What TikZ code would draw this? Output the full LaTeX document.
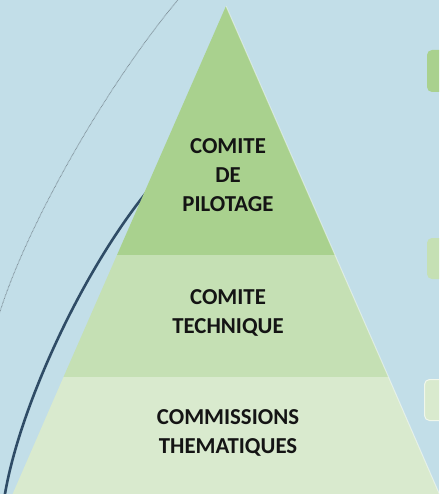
\documentclass[tikz,border=0pt]{standalone}
\usepackage{fontspec}
\setmainfont{Carlito}
\definecolor{bg}{HTML}{C2DEE8}
\definecolor{tierA}{HTML}{A9D18E}
\definecolor{tierB}{HTML}{C5E0B4}
\definecolor{tierC}{HTML}{D9EACE}
\definecolor{curvec}{HTML}{2F4C66}
\definecolor{arcc}{HTML}{7F9099}
\tikzset{
  tierlabel/.style={font=\bfseries\fontsize{22.8}{29}\selectfont, text=black!92, align=center, inner sep=0pt},
  sidebox/.style={rounded corners=5pt},
}
\begin{document}
\begin{tikzpicture}[x=1pt,y=-1pt]
\useasboundingbox (0,0) rectangle (439,494);
\clip (0,0) rectangle (439,494);
\fill[bg] (0,0) rectangle (439,494);
% dotted arc
\coordinate (a0) at (182,-5);
\coordinate (a1) at (-2,318);
\draw[arcc, line width=0.9pt, dash pattern=on 0.7pt off 0.7pt]
  (a0) .. controls (108,82) and (25.3,227) .. (a1);
% dark curve
\coordinate (c0) at (150,188);
\coordinate (c1) at (4,500);
\draw[curvec, line width=2.6pt]
  (c0) .. controls (83,269) and (17.5,410) .. (c1);
% pyramid tiers
\coordinate (apex) at (226,6);
\coordinate (l1) at (117,255); \coordinate (r1) at (335,255);
\coordinate (l2) at (63.5,377); \coordinate (r2) at (388.5,377);
\coordinate (l3) at (10,500); \coordinate (r3) at (442,500);
\fill[tierA] (apex) -- (r1) -- (l1) -- cycle;
\fill[tierB] (l1) -- (r1) -- (r2) -- (l2) -- cycle;
\fill[tierC] (l2) -- (r2) -- (r3) -- (l3) -- cycle;
\draw[white, opacity=0.45, line width=1pt] (apex) -- (r1) -- (r2) -- (r3);
% side boxes
\fill[tierA, sidebox] (427,50) rectangle (460,92);
\fill[tierB, sidebox] (427,238) rectangle (460,279);
\draw[sidebox, fill=tierC, draw=white!60!tierC, line width=1pt] (424.5,379.5) rectangle (460,420.5);
% labels
\node[tierlabel] (t1) at (228,175) {COMITE\\DE\\PILOTAGE};
\node[tierlabel] (t2) at (228,313) {COMITE\\TECHNIQUE};
\node[tierlabel] (t3) at (228,432.5) {COMMISSIONS\\THEMATIQUES};
\end{tikzpicture}
\end{document}
